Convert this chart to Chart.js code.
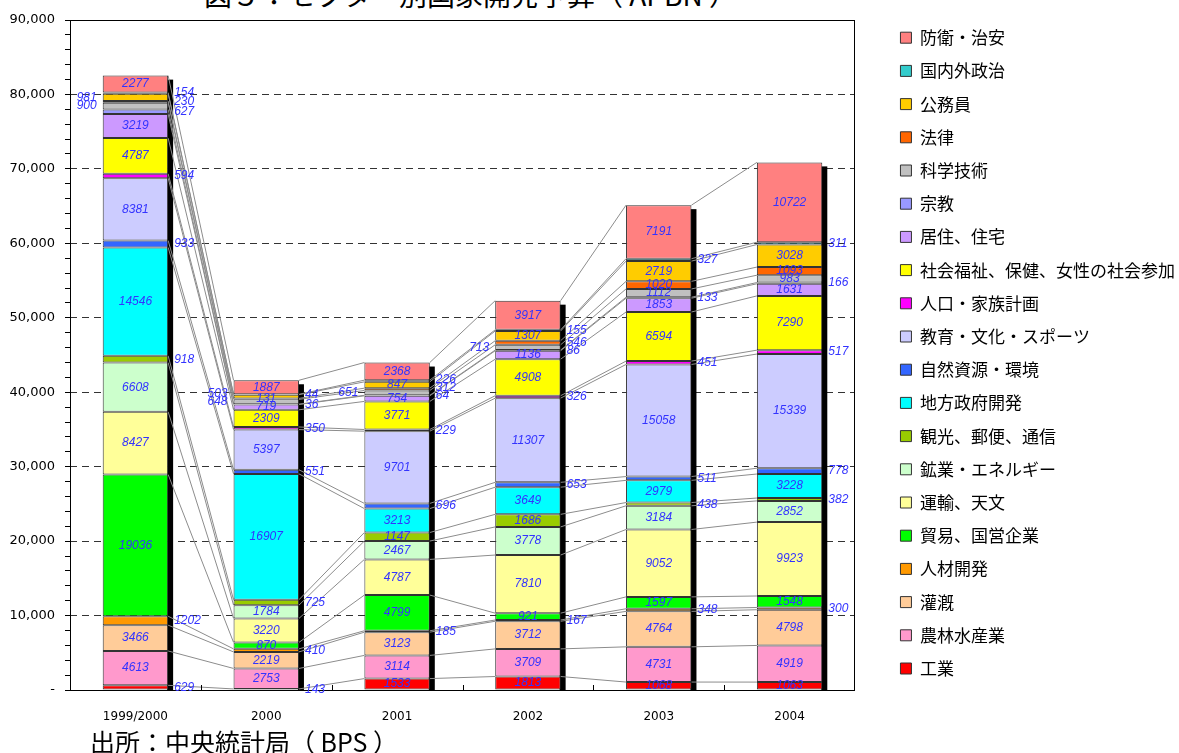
<!DOCTYPE html>
<html lang="ja">
<head>
<meta charset="utf-8">
<title>セクター別国家開発予算</title>
<script src="https://cdn.jsdelivr.net/npm/chart.js@4.4.1/dist/chart.umd.min.js"></script>
<style>
  body { margin: 0; background: #fff; }
  #wrap { position: relative; width: 1179px; height: 753px; overflow: hidden; }
  #chart { position: absolute; left: 0; top: 0; }
  .title {
    position: absolute; left: 78px; width: 785px; top: -26px;
    text-align: center; font: 28px "Noto Sans CJK JP", sans-serif; color: #000;
  }
  .source {
    position: absolute; left: 90px; top: 723px;
    font: 25px "Noto Sans CJK JP", sans-serif; color: #000;
  }
</style>
</head>
<body>
<div id="wrap">
  <div class="title">図５：セクター別国家開発予算（ APBN ）</div>
  <canvas id="chart" width="1179" height="730"></canvas>
  <div class="source">出所：中央統計局（ BPS ）</div>
</div>
<script>
// DATA (単位：10億ルピア)
const years = ["1999/2000", "2000", "2001", "2002", "2003", "2004"];

const industry    = [629, 143, 1533, 1813, 1068, 1063];       // 工業
const agriculture = [4613, 2753, 3114, 3709, 4731, 4919];     // 農林水産業
const irrigation  = [3466, 2219, 3123, 3712, 4764, 4798];     // 灌漑
const humanRes    = [1202, 410, 185, 167, 348, 300];          // 人材開発
const trade       = [19036, 870, 4799, 921, 1597, 1548];      // 貿易、国営企業
const transport   = [8427, 3220, 4787, 7810, 9052, 9923];     // 運輸、天文
const mining      = [6608, 1784, 2467, 3778, 3184, 2852];     // 鉱業・エネルギー
const tourism     = [918, 725, 1147, 1686, 438, 382];         // 観光、郵便、通信
const regional    = [14546, 16907, 3213, 3649, 2979, 3228];   // 地方政府開発
const environment = [933, 551, 696, 653, 511, 778];           // 自然資源・環境
const education   = [8381, 5397, 9701, 11307, 15058, 15339];  // 教育・文化・スポーツ
const population  = [594, 350, 229, 326, 451, 517];           // 人口・家族計画
const welfare     = [4787, 2309, 3771, 4908, 6594, 7290];     // 社会福祉…
const housing     = [3219, 719, 754, 1136, 1853, 1631];       // 居住、住宅
const religion    = [627, 36, 64, 86, 133, 166];              // 宗教
const science     = [900, 648, 651, 713, 1112, 983];          // 科学技術
const law         = [230, 131, 312, 546, 1020, 1093];         // 法律
const civil       = [981, 503, 847, 1307, 2719, 3028];        // 公務員
const politics    = [154, 44, 226, 155, 327, 311];            // 国内外政治
const defense     = [2277, 1887, 2368, 3917, 7191, 10722];    // 防衛・治安

const yMax = 90000;
const yMajor = 10000;
const yMinor = 2000;

// bottom to top
const series = [
  { label: "工業", data: industry, color: "#FF0000" },
  { label: "農林水産業", data: agriculture, color: "#FF99CC" },
  { label: "灌漑", data: irrigation, color: "#FFCC99" },
  { label: "人材開発", data: humanRes, color: "#FF9900" },
  { label: "貿易、国営企業", data: trade, color: "#00FF00" },
  { label: "運輸、天文", data: transport, color: "#FFFF99" },
  { label: "鉱業・エネルギー", data: mining, color: "#CCFFCC" },
  { label: "観光、郵便、通信", data: tourism, color: "#99CC00" },
  { label: "地方政府開発", data: regional, color: "#00FFFF" },
  { label: "自然資源・環境", data: environment, color: "#3366FF" },
  { label: "教育・文化・スポーツ", data: education, color: "#CCCCFF" },
  { label: "人口・家族計画", data: population, color: "#FF00FF" },
  { label: "社会福祉、保健、女性の社会参加", data: welfare, color: "#FFFF00" },
  { label: "居住、住宅", data: housing, color: "#CC99FF" },
  { label: "宗教", data: religion, color: "#9999FF" },
  { label: "科学技術", data: science, color: "#C0C0C0" },
  { label: "法律", data: law, color: "#FF6600" },
  { label: "公務員", data: civil, color: "#FFCC00" },
  { label: "国内外政治", data: politics, color: "#33CCCC" },
  { label: "防衛・治安", data: defense, color: "#FF8080" }
];

// where the value labels go (default: small ones to the right)
const labelLeft   = { "科学技術": [0, 1, 2, 3], "公務員": [0, 1] };
const labelInside = { "貿易、国営企業": [1, 3], "居住、住宅": [1, 2], "法律": [1], "公務員": [2], "科学技術": [5] };
const labelRight  = { "人材開発": [0] };

function placement(name, i, v) {
  if ((labelLeft[name] || []).includes(i)) return "l";
  if ((labelInside[name] || []).includes(i)) return "c";
  if ((labelRight[name] || []).includes(i)) return "r";
  return v < 1000 ? "r" : "c";
}

// LAYOUT
const CANVAS_W = 1179;
const PLOT_RIGHT = 855;
const LEGEND_PAD = 16.2;
const LEGEND_SIZE = 17;

// shadow + series lines + frame
const decorPlugin = {
  id: "decor",
  beforeDatasetsDraw(chart) {
    const { ctx, chartArea } = chart;
    const yScale = chart.scales.y;
    const n = chart.data.labels.length;
    const last = chart.data.datasets.length - 1;
    ctx.save();

    // black shadow on the right of each column
    const topMeta = chart.getDatasetMeta(last);
    for (let i = 0; i < n; i++) {
      const el = topMeta.data[i];
      const right = el.x + el.width / 2;
      const bottom = yScale.getPixelForValue(0);
      ctx.fillStyle = "#000";
      ctx.fillRect(right - 1, el.y + 4, 6, bottom - el.y - 4);
    }

    // series lines
    ctx.strokeStyle = "#8c8c8c";
    ctx.lineWidth = 1;
    chart.data.datasets.forEach((ds, d) => {
      const meta = chart.getDatasetMeta(d);
      for (let i = 0; i < n - 1; i++) {
        const a = meta.data[i], b = meta.data[i + 1];
        ctx.beginPath();
        ctx.moveTo(a.x + a.width / 2, a.y);
        ctx.lineTo(b.x - b.width / 2, b.y);
        ctx.stroke();
      }
    });

    // plot frame
    ctx.strokeStyle = "#000";
    ctx.strokeRect(chartArea.left + 0.5, chartArea.top + 0.5,
                   chartArea.right - chartArea.left - 1, chartArea.bottom - chartArea.top);

    // category boundary ticks at the bottom
    const xs = chart.scales.x;
    for (let i = 0; i < n - 1; i++) {
      const bx = Math.round((xs.getPixelForValue(i) + xs.getPixelForValue(i + 1)) / 2) + 0.5;
      ctx.beginPath();
      ctx.moveTo(bx, chartArea.bottom);
      ctx.lineTo(bx, chartArea.bottom - 5);
      ctx.stroke();
    }
    ctx.restore();
  }
};

// value labels
const labelPlugin = {
  id: "segLabels",
  afterDatasetsDraw(chart) {
    const { ctx } = chart;
    ctx.save();
    ctx.font = "italic 12px 'Liberation Sans', sans-serif";
    ctx.fillStyle = "#3333FF";
    ctx.textBaseline = "middle";
    chart.data.labels.forEach((yr, i) => {
      const groups = { r: [], l: [] };
      chart.data.datasets.forEach((ds, d) => {
        const el = chart.getDatasetMeta(d).data[i];
        const v = ds.data[i];
        const pos = placement(ds.label, i, v);
        const y = (el.y + el.base) / 2;
        if (pos === "c") {
          ctx.textAlign = "center";
          ctx.fillText(String(v), el.x, y);
        } else {
          const x = pos === "r" ? el.x + el.width / 2 + 6 : el.x - el.width / 2 - 6;
          groups[pos].push({ v, x, y });
        }
      });
      for (const k of ["r", "l"]) {
        const g = groups[k];
        for (let j = 1; j < g.length; j++) {
          if (g[j].y > g[j - 1].y - 8) g[j].y = g[j - 1].y - 8;
        }
        ctx.textAlign = k === "r" ? "left" : "right";
        g.forEach(o => ctx.fillText(String(o.v), o.x, o.y));
      }
    });
    ctx.restore();
  }
};

new Chart(document.getElementById("chart"), {
  type: "bar",
  data: {
    labels: years,
    datasets: series.map(s => ({
      label: s.label,
      data: s.data,
      backgroundColor: s.color,
      borderColor: "#333333",
      borderWidth: 1,
      borderSkipped: false,
      barPercentage: 0.5,
      categoryPercentage: 1.0,
      xAxisID: "x",
      yAxisID: "y"
    }))
  },
  options: {
    responsive: false,
    devicePixelRatio: 1,
    animation: false,
    layout: { padding: { top: 13, left: 0, bottom: 0, right: 0 } },
    plugins: {
      legend: {
        position: "right",
        align: "start",
        reverse: true,
        labels: {
          boxWidth: 11,
          boxHeight: 11,
          padding: LEGEND_PAD,
          color: "#000",
          font: { family: "'Noto Sans CJK JP', sans-serif", size: LEGEND_SIZE }
        }
      },
      tooltip: { enabled: false }
    },
    scales: {
      x: {
        stacked: true,
        grid: { display: false, drawTicks: false },
        border: { display: false },
        ticks: {
          color: "#000",
          padding: 20,
          font: { family: "'DejaVu Sans', sans-serif", size: 12 }
        },
        afterFit: (s) => { s.height = 40; }
      },
      xTop: {
        type: "category",
        position: "top",
        grid: { display: false, drawTicks: false },
        border: { display: false },
        ticks: { display: false },
        afterFit: (s) => { s.height = 7; }
      },
      y: {
        stacked: true,
        min: 0,
        max: yMax,
        grid: {
          color: (c) => (c.tick && c.tick.value % yMajor === 0 && c.tick.value > 0 && c.tick.value < yMax) ? "#333" : "rgba(0,0,0,0)",
          tickColor: "#000",
          tickLength: 5
        },
        border: { display: false, dash: [7, 5] },
        ticks: {
          stepSize: yMinor,
          maxTicksLimit: 46,
          autoSkip: false,
          color: "#000",
          padding: 10,
          font: { family: "'DejaVu Sans', sans-serif", size: 13 },
          callback: (v) => v % yMajor === 0 ? (v === 0 ? "-" : v.toLocaleString("en-US")) : ""
        },
        afterFit: (s) => { s.width = 70; }
      },
      // invisible spacer between the plot and the legend
      yGap: {
        display: false,
        position: "right",
        afterFit: (s) => {
          const lw = s.chart.legend ? s.chart.legend.width : 0;
          s.width = Math.max(0, CANVAS_W - PLOT_RIGHT - lw);
        }
      }
    }
  },
  plugins: [decorPlugin, labelPlugin]
});
</script>
</body>
</html>
